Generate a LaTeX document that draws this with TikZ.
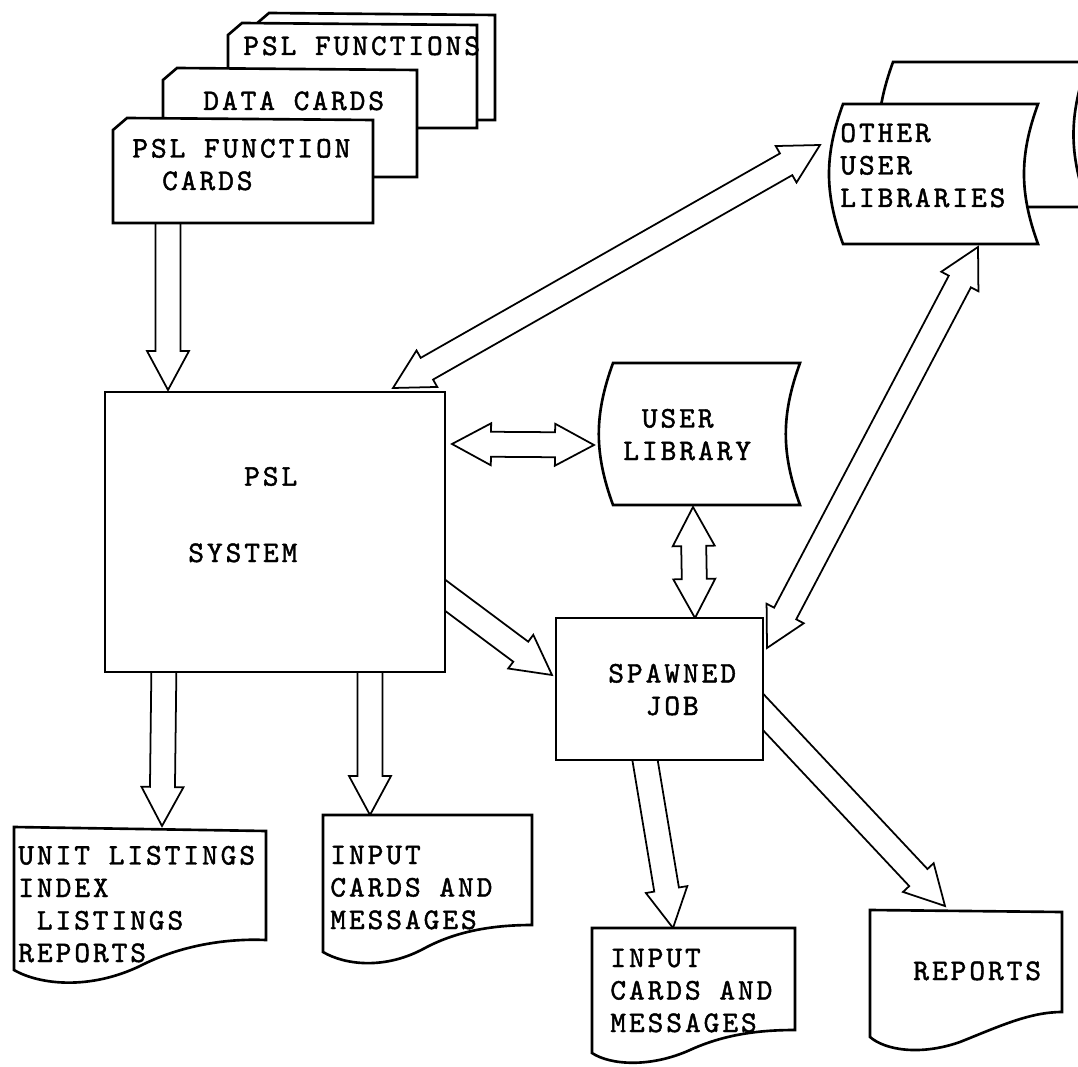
\documentclass[tikz,border=0pt]{standalone}
\usepackage{fontspec}
\newfontfamily\typer{lmmono10-regular.otf}[LetterSpace=10, FakeBold=1.5]
\usepackage{tikz}
\usetikzlibrary{calc,backgrounds}
\tikzset{
  box/.style={draw, line width=1.5pt, fill=white},
  fatline/.style={draw, line width=1pt, fill=white},
  typed/.style={font=\typer\fontsize{17}{18.5}\selectfont, inner sep=0pt, align=left, anchor=base west}
}
\newcommand{\fatw}{0.25cm}
\newcommand{\fathw}{0.42cm}
\newcommand{\fathl}{0.78cm}
% block arrow: tail, tip
\newcommand{\fatarrow}[2]{\path[fatline] ($(#1)!\fatw!90:(#2)$) -- ($(#2)!\fathl!(#1)!\fatw!90:(#2)$) -- ($(#2)!\fathl!(#1)!\fathw!90:(#2)$) -- (#2) -- ($(#2)!\fathl!(#1)!\fathw!-90:(#2)$) -- ($(#2)!\fathl!(#1)!\fatw!-90:(#2)$) -- ($(#1)!\fatw!-90:(#2)$);}
% block arrow with two heads
\newcommand{\fatdarrow}[2]{\path[fatline] (#1) -- ($(#1)!\fathl!(#2)!\fathw!90:(#2)$) -- ($(#1)!\fathl!(#2)!\fatw!90:(#2)$) -- ($(#2)!\fathl!(#1)!\fatw!90:(#2)$) -- ($(#2)!\fathl!(#1)!\fathw!90:(#2)$) -- (#2) -- ($(#2)!\fathl!(#1)!\fathw!-90:(#2)$) -- ($(#2)!\fathl!(#1)!\fatw!-90:(#2)$) -- ($(#1)!\fathl!(#2)!\fatw!-90:(#2)$) -- ($(#1)!\fathl!(#2)!\fathw!-90:(#2)$) -- cycle;}

\begin{document}
\begin{tikzpicture}[x=0.02cm, y=-0.02cm]
\useasboundingbox (0,0) rectangle (1078,1067);
\clip (0,0) rectangle (1078,1067);
% Card deck
\foreach \l/\t/\r/\b in {255/13/495/120, 228/23/477/128, 163/68/417/177, 113/118/373/223}
  \draw[box] (\l,\t+12) -- (\l+14,\t) -- (\r,\t+2) -- (\r,\b) -- (\l,\b) -- cycle;
\node[typed] (fnstxt) at (243,55) {PSL FUNCTIONS};
\node[typed] (datatxt) at (203,110) {DATA CARDS};
\node[typed] (cardstxt) at (132,190) {PSL FUNCTION\\\hspace*{1em}CARDS};
% Libraries
\foreach \l/\t/\r/\b in {893/62/1088/207, 843/104/1038/244, 613/363/800/505}
  \draw[box] (\l,\t) -- (\r,\t) to[bend right=20] (\r,\b) -- (\l,\b) to[bend left=20] cycle;
\node[typed] (othertxt) at (840,207) {OTHER\\USER\\LIBRARIES};
\node[typed] (libtxt) at (623,460) {\hspace*{0.62em}USER\\LIBRARY};
% PSL system
\node[box, minimum width=6.8cm, minimum height=5.6cm, inner sep=0pt] (psl) at (275,532) {};
\node[typed] (psltxt) at (188,562) {\hspace*{1.87em}PSL\\[25pt]SYSTEM};
% Spawned job
\node[box, minimum width=4.14cm, minimum height=2.84cm, inner sep=0pt] (spawned) at (659.5,689) {};
\node[typed] (spawntxt) at (608,715) {SPAWNED\\\hspace*{1.25em}JOB};
% Printouts
\draw[box] (14,827) -- (266,831) -- (266,940) .. controls (220,938) and (175,948) .. (140,966) .. controls (90,990) and (40,985) .. (14,970) -- cycle;
\draw[box] (323,815) -- (532,815) -- (532,925) .. controls (490,925) and (455,932) .. (425,948) .. controls (385,970) and (345,965) .. (323,952) -- cycle;
\draw[box] (592,928) -- (795,928) -- (795,1030) .. controls (760,1030) and (725,1034) .. (690,1050) .. controls (650,1068) and (610,1065) .. (592,1053) -- cycle;
\draw[box] (870,910) -- (1062,912) -- (1062,1012) .. controls (1030,1012) and (1000,1026) .. (960,1042) .. controls (920,1056) and (885,1050) .. (870,1037) -- cycle;
\node[typed] (unittxt) at (18,962) {UNIT LISTINGS\\INDEX\\\hspace*{0.62em}LISTINGS\\REPORTS};
\node[typed] (inputatxt) at (330,929) {INPUT\\CARDS AND\\MESSAGES};
\node[typed] (inputbtxt) at (610,1032) {INPUT\\CARDS AND\\MESSAGES};
\node[typed] (reptxt) at (913,980) {REPORTS};
% Arrow ends
\coordinate (cardsS) at (168,212);  \coordinate (pslN) at (168,390);
\coordinate (pslSa) at (164,660);   \coordinate (unitN) at (162,826);
\coordinate (pslSb) at (370,660);   \coordinate (inputaN) at (370,815);
\coordinate (pslE) at (452,444);    \coordinate (libW) at (594,445);
\coordinate (pslNE) at (393,388);   \coordinate (otherW) at (820,145);
\coordinate (otherS) at (978,247);  \coordinate (spawnE) at (767,648);
\coordinate (libS) at (693,507);    \coordinate (spawnN) at (695,618);
\coordinate (pslSE) at (430,584);   \coordinate (spawnW) at (552,675);
\coordinate (spawnS) at (643,748);  \coordinate (inputbN) at (673,928);
\coordinate (spawnSE) at (750,698); \coordinate (repN) at (945,906);
% Arrows
\begin{scope}[on background layer]
\foreach \a/\b in {cardsS/pslN, pslSa/unitN, pslSb/inputaN, pslSE/spawnW, spawnS/inputbN, spawnSE/repN}
  \fatarrow{\a}{\b};
\foreach \a/\b in {pslE/libW, pslNE/otherW, otherS/spawnE, libS/spawnN}
  \fatdarrow{\a}{\b};
\end{scope}
\end{tikzpicture}
\end{document}
